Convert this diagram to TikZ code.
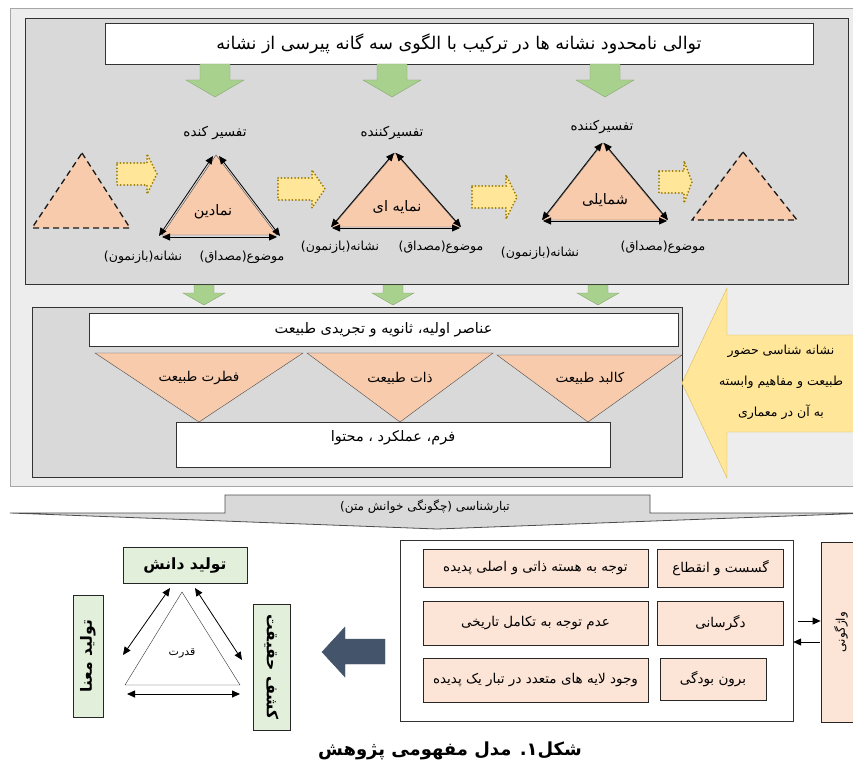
\documentclass[tikz,border=0pt]{standalone}
\usepackage{fontspec}
\newfontfamily\fa[Script=Arabic]{DejaVu Sans}
\TeXXeTstate=1
\usetikzlibrary{arrows.meta}

\definecolor{panelfill}{HTML}{EDEDED}
\definecolor{grayfill}{HTML}{D9D9D9}
\definecolor{salmon}{HTML}{F8CBAD}
\definecolor{lightsalmon}{HTML}{FCE4D6}
\definecolor{greenarr}{HTML}{A9D18E}
\definecolor{greenbox}{HTML}{E2EFDA}
\definecolor{yellowarr}{HTML}{FFE699}
\definecolor{olive}{HTML}{9C7A00}
\definecolor{slate}{HTML}{44546A}

\newcommand{\R}[1]{\beginR #1\endR}
% x0, head x, tip x, centre y, body half height, head half height
\newcommand{\dotarrow}[6]{%
  \draw[dot arrow] (#1,#4-#5) -- (#2,#4-#5) -- (#2,#4-#6) -- (#3,#4)
    -- (#2,#4+#6) -- (#2,#4+#5) -- (#1,#4+#5) -- cycle;}

\begin{document}
\begin{tikzpicture}[x=1pt,y=-1pt,>={Triangle[length=8pt,width=7pt]}]
        \tikzstyle{txt}=[font=\fa\fontsize{12.5}{14}\selectfont, inner sep=1pt]
        \tikzstyle{bigtxt}=[font=\fa\fontsize{14.5}{16}\selectfont, inner sep=1pt]
        \tikzstyle{wbox}=[draw=black!80, fill=white, inner sep=0pt]
        \tikzstyle{pbox}=[draw=black!85, thick, fill=lightsalmon, inner sep=0pt,
            font=\fa\fontsize{13.5}{15}\selectfont]
        \tikzstyle{gbox}=[draw=black!85, thick, fill=greenbox, inner sep=0pt,
            font=\fa\bfseries\fontsize{15.5}{17}\selectfont]
        \tikzstyle{green arrow}=[draw=greenarr!80!black, fill=greenarr]
        \tikzstyle{dot arrow}=[draw=olive, fill=yellowarr, line width=2pt,
            dash pattern=on 0pt off 3.4pt, line cap=round]
        \tikzstyle{sign}=[draw=black!70, fill=salmon]
        \tikzstyle{ghost}=[draw=black!90, fill=salmon, line width=1.3pt,
            dash pattern=on 6pt off 4pt]
        \tikzstyle{dbl}=[<->, thick]

        \useasboundingbox (0,0) rectangle (853,767);
        \clip (0,0) rectangle (853,767);

        % Panels
        \draw[draw=black!35, fill=panelfill] (10,8) rectangle (870,486);
        \draw[draw=black!80, fill=grayfill] (25,18) rectangle (848,284);
        \draw[draw=black!80, fill=grayfill] (32,307) rectangle (682,477);

        % Title of the upper panel
        \node[wbox, minimum width=708pt, minimum height=41pt,
            font=\fa\fontsize{17.5}{19}\selectfont] (title) at (459,43.5)
            {\R{توالی نامحدود نشانه ها در ترکیب با الگوی سه گانه پیرسی از نشانه}};

        % Green arrows
        \foreach \cx in {215,392,605}
            \draw[green arrow] (\cx-15,64) -- (\cx+15,64) -- (\cx+15,80) -- (\cx+29,80)
                -- (\cx,97) -- (\cx-29,80) -- (\cx-15,80) -- cycle;
        \foreach \cx in {204,393,598}
            \draw[green arrow] (\cx-10,285) -- (\cx+10,285) -- (\cx+10,293) -- (\cx+21,293)
                -- (\cx,305) -- (\cx-21,293) -- (\cx-10,293) -- cycle;

        % Dashed triangles at both ends
        \draw[ghost] (82,153) -- (130,228) -- (32,228) -- cycle;
        \draw[ghost] (743,152) -- (797,220) -- (692,220) -- cycle;

        % Dotted arrows between the triangles
        \dotarrow{117}{147}{157}{174}{11}{20}
        \dotarrow{278}{312}{325}{189}{11}{19}
        \dotarrow{472}{506}{517}{197}{11}{22}
        \dotarrow{659}{684}{692}{182}{11}{21}

        % The three sign triangles
        \coordinate (T1-a) at (216,155); \coordinate (T1-l) at (162,235); \coordinate (T1-r) at (277,235);
        \coordinate (T2-a) at (395,153); \coordinate (T2-l) at (332,227); \coordinate (T2-r) at (460,227);
        \coordinate (T3-a) at (603,143); \coordinate (T3-l) at (543,220); \coordinate (T3-r) at (667,220);
        \foreach \t in {T1,T2,T3}
            \draw[sign] (\t-a) -- (\t-r) -- (\t-l) -- cycle;

        \draw[dbl, transform canvas={xshift=-3pt,yshift=-1pt}] (T1-a) -- (T1-l);
        \draw[dbl, transform canvas={xshift=3pt,yshift=-1pt}] (T1-a) -- (T1-r);
        \draw[dbl, transform canvas={yshift=-2pt}] (T1-l) -- (T1-r);
        \foreach \t in {T2,T3} {
            \draw[dbl, transform canvas={xshift=-1pt}] (\t-a) -- (\t-l);
            \draw[dbl, transform canvas={xshift=1pt}] (\t-a) -- (\t-r);
            \draw[dbl, transform canvas={yshift=-1pt}] (\t-l) -- (\t-r);
        }

        % Annotate the triangles
        \node[txt, font=\fa\fontsize{13.5}{15}\selectfont] (int1) at (215,133) {\R{تفسیر کنده}};
        \node[txt, font=\fa\fontsize{13.5}{15}\selectfont] (int2) at (392,133) {\R{تفسیرکننده}};
        \node[txt, font=\fa\fontsize{13.5}{15}\selectfont] (int3) at (602,127) {\R{تفسیرکننده}};
        \node[bigtxt] (sym) at (213,212) {\R{نمادین}};
        \node[bigtxt] (idx) at (397,207) {\R{نمایه ای}};
        \node[bigtxt] (ico) at (605,200) {\R{شمایلی}};
        \node[txt] (rep1) at (143,257) {\R{نشانه(بازنمون)}};
        \node[txt] (obj1) at (242,257) {\R{موضوع(مصداق)}};
        \node[txt] (rep2) at (340,247) {\R{نشانه(بازنمون)}};
        \node[txt] (obj2) at (441,247) {\R{موضوع(مصداق)}};
        \node[txt] (rep3) at (540,253) {\R{نشانه(بازنمون)}};
        \node[txt] (obj3) at (663,247) {\R{موضوع(مصداق)}};

        % Nature layers
        \node[wbox, minimum width=589pt, minimum height=33pt, bigtxt] (elem) at (383.5,329.5)
            {\R{عناصر اولیه، ثانویه و تجریدی طبیعت}};
        \draw[sign] (95,353) -- (303,353) -- (199,422) -- cycle;
        \draw[sign] (307,353) -- (493,353) -- (400,422) -- cycle;
        \draw[sign] (497,355) -- (682,355) -- (588,422) -- cycle;
        \node[bigtxt, font=\fa\fontsize{13.5}{15}\selectfont] (fitra) at (199,378) {\R{فطرت طبیعت}};
        \node[bigtxt, font=\fa\fontsize{13.5}{15}\selectfont] (essence) at (400,378) {\R{ذات طبیعت}};
        \node[bigtxt, font=\fa\fontsize{13.5}{15}\selectfont] (body) at (590,378) {\R{کالبد طبیعت}};
        \node[wbox, minimum width=434pt, minimum height=45pt] (form) at (393,444.5) {};
        \node[bigtxt] (formt) at (393,438) {\R{فرم، عملکرد ، محتوا}};

        % Yellow arrow on the right
        \draw[draw=yellowarr!60!olive, fill=yellowarr] (682,383) -- (727,288) -- (727,335)
            -- (870,335) -- (870,432) -- (727,432) -- (727,478) -- cycle;
        \node[align=center, font=\fa\fontsize{12.5}{31}\selectfont] (semio) at (781,382)
            {\R{نشانه شناسی حضور}\\\R{طبیعت و مفاهیم وابسته}\\\R{به آن در معماری}};

        % Genealogy band
        \draw[draw=black!70, thick, fill=grayfill] (10,513) -- (225,513) -- (225,495) -- (650,495)
            -- (650,513) -- (870,513) -- (437,529) -- cycle;
        \node[txt, font=\fa\fontsize{12}{14}\selectfont] (gene) at (425,507) {\R{تبارشناسی (چگونگی خوانش متن)}};

        % Features of genealogy
        \node[wbox, minimum width=393pt, minimum height=181pt] (feat) at (596.5,630.5) {};
        \node[pbox, minimum width=225pt, minimum height=38pt] (f1) at (535.5,568) {\R{توجه به هسته ذاتی و اصلی پدیده}};
        \node[pbox, minimum width=126pt, minimum height=38pt] (f2) at (720.5,568) {\R{گسست و انقطاع}};
        \node[pbox, minimum width=225pt, minimum height=44pt] (f3) at (535.5,623) {\R{عدم توجه به تکامل تاریخی}};
        \node[pbox, minimum width=126pt, minimum height=44pt] (f4) at (720.5,623) {\R{دگرسانی}};
        \node[pbox, minimum width=225pt, minimum height=44pt] (f5) at (535.5,680) {\R{وجود لایه های متعدد در تبار یک پدیده}};
        \node[pbox, minimum width=106pt, minimum height=42pt] (f6) at (713,679) {\R{برون بودگی}};
        \node[pbox, rotate=90, minimum width=180pt, minimum height=40pt,
            font=\fa\fontsize{12}{14}\selectfont] (inv) at (841,632) {\R{واژگونی}};

        \coordinate (in1) at (798,621);
        \coordinate (in2) at (820,642);
        \draw[->, thick] (in1) -- (in1 -| inv.north);
        \draw[->, thick] (in2) -- (in2 -| feat.east);

        % Dark arrow to the power triangle
        \draw[draw=slate, fill=slate] (322,652) -- (345,627) -- (345,639) -- (385,639)
            -- (385,664) -- (345,664) -- (345,677) -- cycle;

        % Power triangle
        \node[gbox, minimum width=124pt, minimum height=36pt] (know) at (185,565) {\R{تولید دانش}};
        \node[gbox, rotate=90, minimum width=122pt, minimum height=30pt] (mean) at (88,656) {\R{تولید معنا}};
        \node[gbox, rotate=-90, minimum width=126pt, minimum height=37pt] (truth) at (271.5,667) {\R{کشف حقیقت}};
        \coordinate (P-a) at (182,592); \coordinate (P-l) at (125,685); \coordinate (P-r) at (240,685);
        \draw[black!80, fill=white] (P-a) -- (P-r) -- (P-l) -- cycle;
        \node[txt, font=\fa\fontsize{11}{13}\selectfont] (power) at (182,653) {\R{قدرت}};
        \coordinate (k1) at (170,588); \coordinate (m1) at (123,655);
        \coordinate (k2) at (195,588); \coordinate (t1) at (242,660);
        \coordinate (m2) at (127,694); \coordinate (t2) at (240,694);
        \draw[dbl] (k1) -- (m1);
        \draw[dbl] (k2) -- (t1);
        \draw[dbl] (m2) -- (t2);

        % Caption
        \node[font=\fa\bfseries\fontsize{18}{20}\selectfont] (caption) at (450,751)
            {\R{شکل۱.  مدل مفهومی پژوهش}};
\end{tikzpicture}
\end{document}
